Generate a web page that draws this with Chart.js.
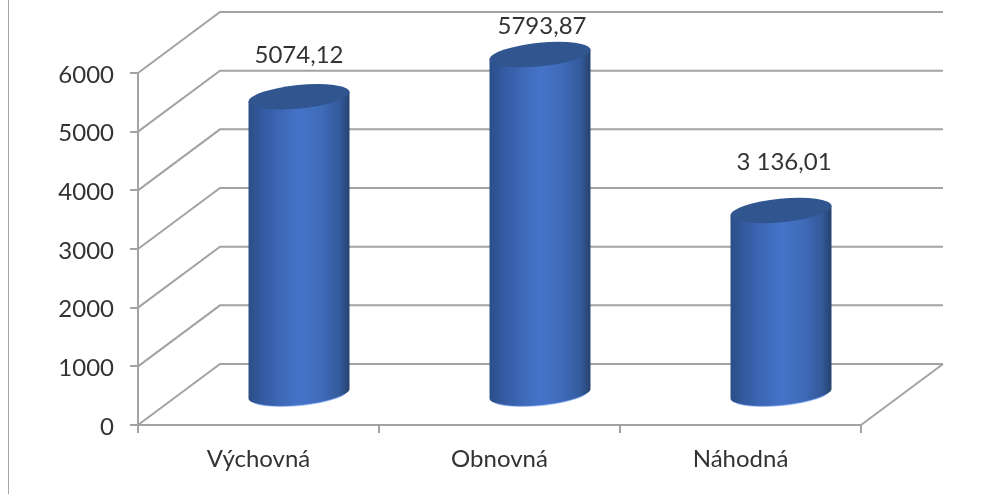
<!DOCTYPE html>
<html lang="sk">
<head>
<meta charset="utf-8">
<title>Chart</title>
<style>
html,body{margin:0;padding:0;background:#fff;overflow:hidden}
#wrap{position:relative;width:996px;height:494px}
#frame{position:absolute;left:8px;top:0;bottom:0;width:1px;border-left:1px solid #a6a6a6}
canvas{display:block}
</style>
<script src="https://cdn.jsdelivr.net/npm/chart.js@4/dist/chart.umd.min.js"></script>
</head>
<body>
<div id="wrap"><div id="frame"></div><canvas id="c" width="996" height="494"></canvas></div>
<script>
const categories = ['Výchovná', 'Obnovná', 'Náhodná'];
const values = [5074.12, 5793.87, 3136.01];
const valueLabels = ['5074,12', '5793,87', '3 136,01'];
const labelShiftX = [0, 2, 3];
const labelShiftY = [-42, -28, -48];

const DEPTH_X = 81, DEPTH_Y = 61;
const GRID = '#a3a3a3', TEXT = '#333333', FONT = 'Lato, Carlito, sans-serif';

class CylinderElement extends Chart.BarElement {
  static id = 'cylinder';
  draw(ctx) {
    const {x, y, base, width} = this.getProps(['x', 'y', 'base', 'width']);
    const cx = x + DEPTH_X / 2, half = width / 2;
    const top = y - DEPTH_Y / 2, bot = base - DEPTH_Y / 2;
    const tilt = Math.atan2(5, half), a = half / Math.cos(tilt), b = 11.8;
    const left = cx - half, right = cx + half;
    const dy = a * Math.sin(tilt);
    ctx.save();
    const side = ctx.createLinearGradient(left, 0, right, 0);
    side.addColorStop(0, '#2b4e86');
    side.addColorStop(0.12, '#33599e');
    side.addColorStop(0.33, '#3e69b8');
    side.addColorStop(0.5, '#4573c8');
    side.addColorStop(0.72, '#3f6bb9');
    side.addColorStop(0.9, '#335a9b');
    side.addColorStop(1, '#26436f');
    ctx.beginPath();
    ctx.moveTo(left, top + dy);
    ctx.lineTo(left, bot + dy);
    ctx.ellipse(cx, bot, a, b, -tilt, Math.PI, 0, true);
    ctx.lineTo(right, top - dy);
    ctx.closePath();
    ctx.fillStyle = side;
    ctx.fill();
    ctx.beginPath();
    ctx.ellipse(cx, bot, a, b, -tilt, Math.PI * 0.85, Math.PI * 0.15, true);
    ctx.strokeStyle = 'rgba(90,140,235,0.45)';
    ctx.lineWidth = 1.5;
    ctx.stroke();
    ctx.beginPath();
    ctx.ellipse(cx, top, a, b, -tilt, 0, Math.PI * 2);
    ctx.fillStyle = '#30558f';
    ctx.fill();
    ctx.restore();
  }
}
class CylinderController extends Chart.BarController {
  static id = 'cylinder';
  static defaults = {dataElementType: 'cylinder'};
}
Chart.register(CylinderElement, CylinderController);

const depthGrid = {
  id: 'depthGrid',
  beforeDatasetsDraw(chart) {
    const {ctx, scales: {y}, chartArea: a} = chart;
    ctx.save();
    ctx.strokeStyle = GRID;
    ctx.lineWidth = 2;
    y.ticks.forEach(t => {
      const py = y.getPixelForValue(t.value);
      ctx.beginPath();
      ctx.moveTo(a.left, py);
      ctx.lineTo(a.left + 82, py - DEPTH_Y);
      ctx.lineTo(a.right + 82, py - DEPTH_Y);
      ctx.stroke();
    });
    ctx.beginPath();
    ctx.moveTo(a.right, a.bottom);
    ctx.lineTo(a.right + 82, a.bottom - DEPTH_Y);
    ctx.stroke();
    ctx.restore();
  }
};
const barLabels = {
  id: 'barLabels',
  afterDatasetsDraw(chart) {
    const {ctx} = chart;
    const meta = chart.getDatasetMeta(0);
    ctx.save();
    ctx.font = '24px ' + FONT;
    ctx.fillStyle = TEXT;
    ctx.textAlign = 'center';
    ctx.textBaseline = 'middle';
    meta.data.forEach((el, i) => {
      ctx.fillText(valueLabels[i],
        el.x + DEPTH_X / 2 + labelShiftX[i],
        el.y - DEPTH_Y / 2 + labelShiftY[i]);
    });
    ctx.restore();
  }
};

new Chart(document.getElementById('c'), {
  type: 'cylinder',
  data: {
    labels: categories,
    datasets: [{
      data: values,
      backgroundColor: '#4472c4',
      categoryPercentage: 1,
      barPercentage: 0.419,
      clip: false
    }]
  },
  plugins: [depthGrid, barLabels],
  options: {
    responsive: false,
    animation: false,
    layout: {padding: {top: 73, right: 135, left: 0, bottom: 0}},
    plugins: {legend: {display: false}, tooltip: {enabled: false}, title: {display: false}},
    scales: {
      x: {
        type: 'category',
        offset: true,
        afterFit(s) { s.height = 69; },
        border: {color: GRID, width: 2},
        grid: {color: GRID, lineWidth: 2, drawOnChartArea: false, drawTicks: true, tickLength: 8, offset: true},
        ticks: {color: TEXT, font: {family: FONT, size: 24}, padding: 12, maxRotation: 0}
      },
      y: {
        type: 'linear',
        min: 0,
        max: 6000,
        afterFit(s) { s.width = 138; },
        border: {color: GRID, width: 2},
        grid: {color: GRID, lineWidth: 2, drawOnChartArea: false, drawTicks: true, tickLength: 8},
        ticks: {stepSize: 1000, color: TEXT, font: {family: FONT, size: 24}, padding: 16, labelOffset: 2, callback: v => String(v)}
      }
    }
  }
});
</script>
</body>
</html>
